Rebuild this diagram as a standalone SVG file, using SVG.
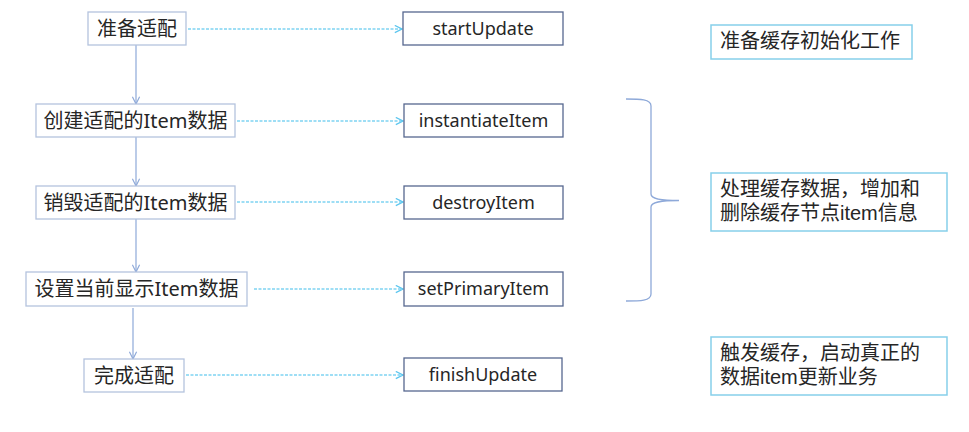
<svg xmlns="http://www.w3.org/2000/svg" width="969" height="432" viewBox="0 0 969 432">
<defs>
<style>
.lb{fill:#fff;stroke:#b4c3de;stroke-width:1.3}
.rb{fill:#fff;stroke:#56678f;stroke-width:1.3}
.nb{fill:#fff;stroke:#86cfea;stroke-width:1.5}
.t{font-family:"Noto Sans","Noto Sans CJK SC",sans-serif;font-size:20px;fill:#262626}
.n{font-family:"Liberation Sans","Noto Sans CJK SC",sans-serif;font-size:20px;fill:#262626}
.m{font-family:"Noto Sans","Noto Sans CJK SC",sans-serif;font-size:18px;fill:#262626;text-anchor:middle}
.c{text-anchor:middle}
.v{stroke:#8ea9d9;stroke-width:1.2;fill:none}
.d{stroke:#7fd4f2;stroke-width:1.5;stroke-dasharray:3 1.5;fill:none}
.br{stroke:#8ea9d9;stroke-width:1.3;fill:none}
</style>
<marker id="av" viewBox="0 0 10 10" refX="9" refY="5" markerWidth="9" markerHeight="9" markerUnits="userSpaceOnUse" orient="auto">
<path d="M1,1 L9,5 L1,9" fill="none" stroke="#8ea9d9" stroke-width="1.3"/>
</marker>
<marker id="ad" viewBox="0 0 10 10" refX="9" refY="5" markerWidth="9" markerHeight="9" markerUnits="userSpaceOnUse" orient="auto">
<path d="M1,1 L9,5 L1,9" fill="none" stroke="#5cc6ef" stroke-width="1.4"/>
</marker>
</defs>
<rect width="969" height="432" fill="#fff"/>
<g id="connectors">
<line class="v" x1="136" y1="45" x2="136" y2="104" marker-end="url(#av)"/>
<line class="v" x1="136" y1="137" x2="136" y2="186" marker-end="url(#av)"/>
<line class="v" x1="136" y1="219" x2="136" y2="272" marker-end="url(#av)"/>
<line class="v" x1="133" y1="308" x2="133" y2="359" marker-end="url(#av)"/>
<line class="d" x1="188" y1="29" x2="402" y2="29" marker-end="url(#ad)"/>
<line class="d" x1="237" y1="121" x2="403" y2="121" marker-end="url(#ad)"/>
<line class="d" x1="237" y1="202" x2="403" y2="202" marker-end="url(#ad)"/>
<line class="d" x1="254" y1="289" x2="403" y2="289" marker-end="url(#ad)"/>
<line class="d" x1="186" y1="375" x2="403" y2="375" marker-end="url(#ad)"/>
</g>
<g id="n1"><rect class="lb" x="88" y="12" width="98" height="33"/><text class="t c" x="137" y="36">准备适配</text></g>
<g id="n2"><rect class="lb" x="36" y="104" width="199" height="33"/><text class="t c" x="135.5" y="128">创建适配的Item数据</text></g>
<g id="n3"><rect class="lb" x="36" y="186" width="199" height="33"/><text class="t c" x="135.5" y="210">销毁适配的Item数据</text></g>
<g id="n4"><rect class="lb" x="26" y="272" width="221" height="34"/><text class="t c" x="136.5" y="296">设置当前显示Item数据</text></g>
<g id="n5"><rect class="lb" x="84" y="359" width="100" height="33"/><text class="t c" x="134" y="383">完成适配</text></g>
<g id="m1"><rect class="rb" x="403" y="12" width="160" height="33"/><text class="m" x="483" y="35">startUpdate</text></g>
<g id="m2"><rect class="rb" x="404" y="104" width="159" height="33"/><text class="m" x="483.5" y="127">instantiateItem</text></g>
<g id="m3"><rect class="rb" x="404" y="186" width="159" height="33"/><text class="m" x="483.5" y="209">destroyItem</text></g>
<g id="m4"><rect class="rb" x="404" y="272" width="159" height="34"/><text class="m" x="483.5" y="295">setPrimaryItem</text></g>
<g id="m5"><rect class="rb" x="404" y="358" width="158" height="33"/><text class="m" x="483" y="381">finishUpdate</text></g>
<g id="brace"><path class="br" d="M626,99 C640,99 651,99 651,106 L651,194 C651,199 660,200.5 679,200.5 C660,200.5 651,202 651,207 L651,294 C651,301 640,301 626,301"/></g>
<g id="note1"><rect class="nb" x="711" y="25" width="201" height="34"/><text class="n" x="720" y="48">准备缓存初始化工作</text></g>
<g id="note2"><rect class="nb" x="711" y="173" width="236" height="58"/><text class="n" x="720" y="196">处理缓存数据，增加和</text><text class="n" x="720" y="220">删除缓存节点item信息</text></g>
<g id="note3"><rect class="nb" x="711" y="337" width="236" height="58"/><text class="n" x="720" y="360">触发缓存，启动真正的</text><text class="n" x="720" y="384">数据item更新业务</text></g>
</svg>
